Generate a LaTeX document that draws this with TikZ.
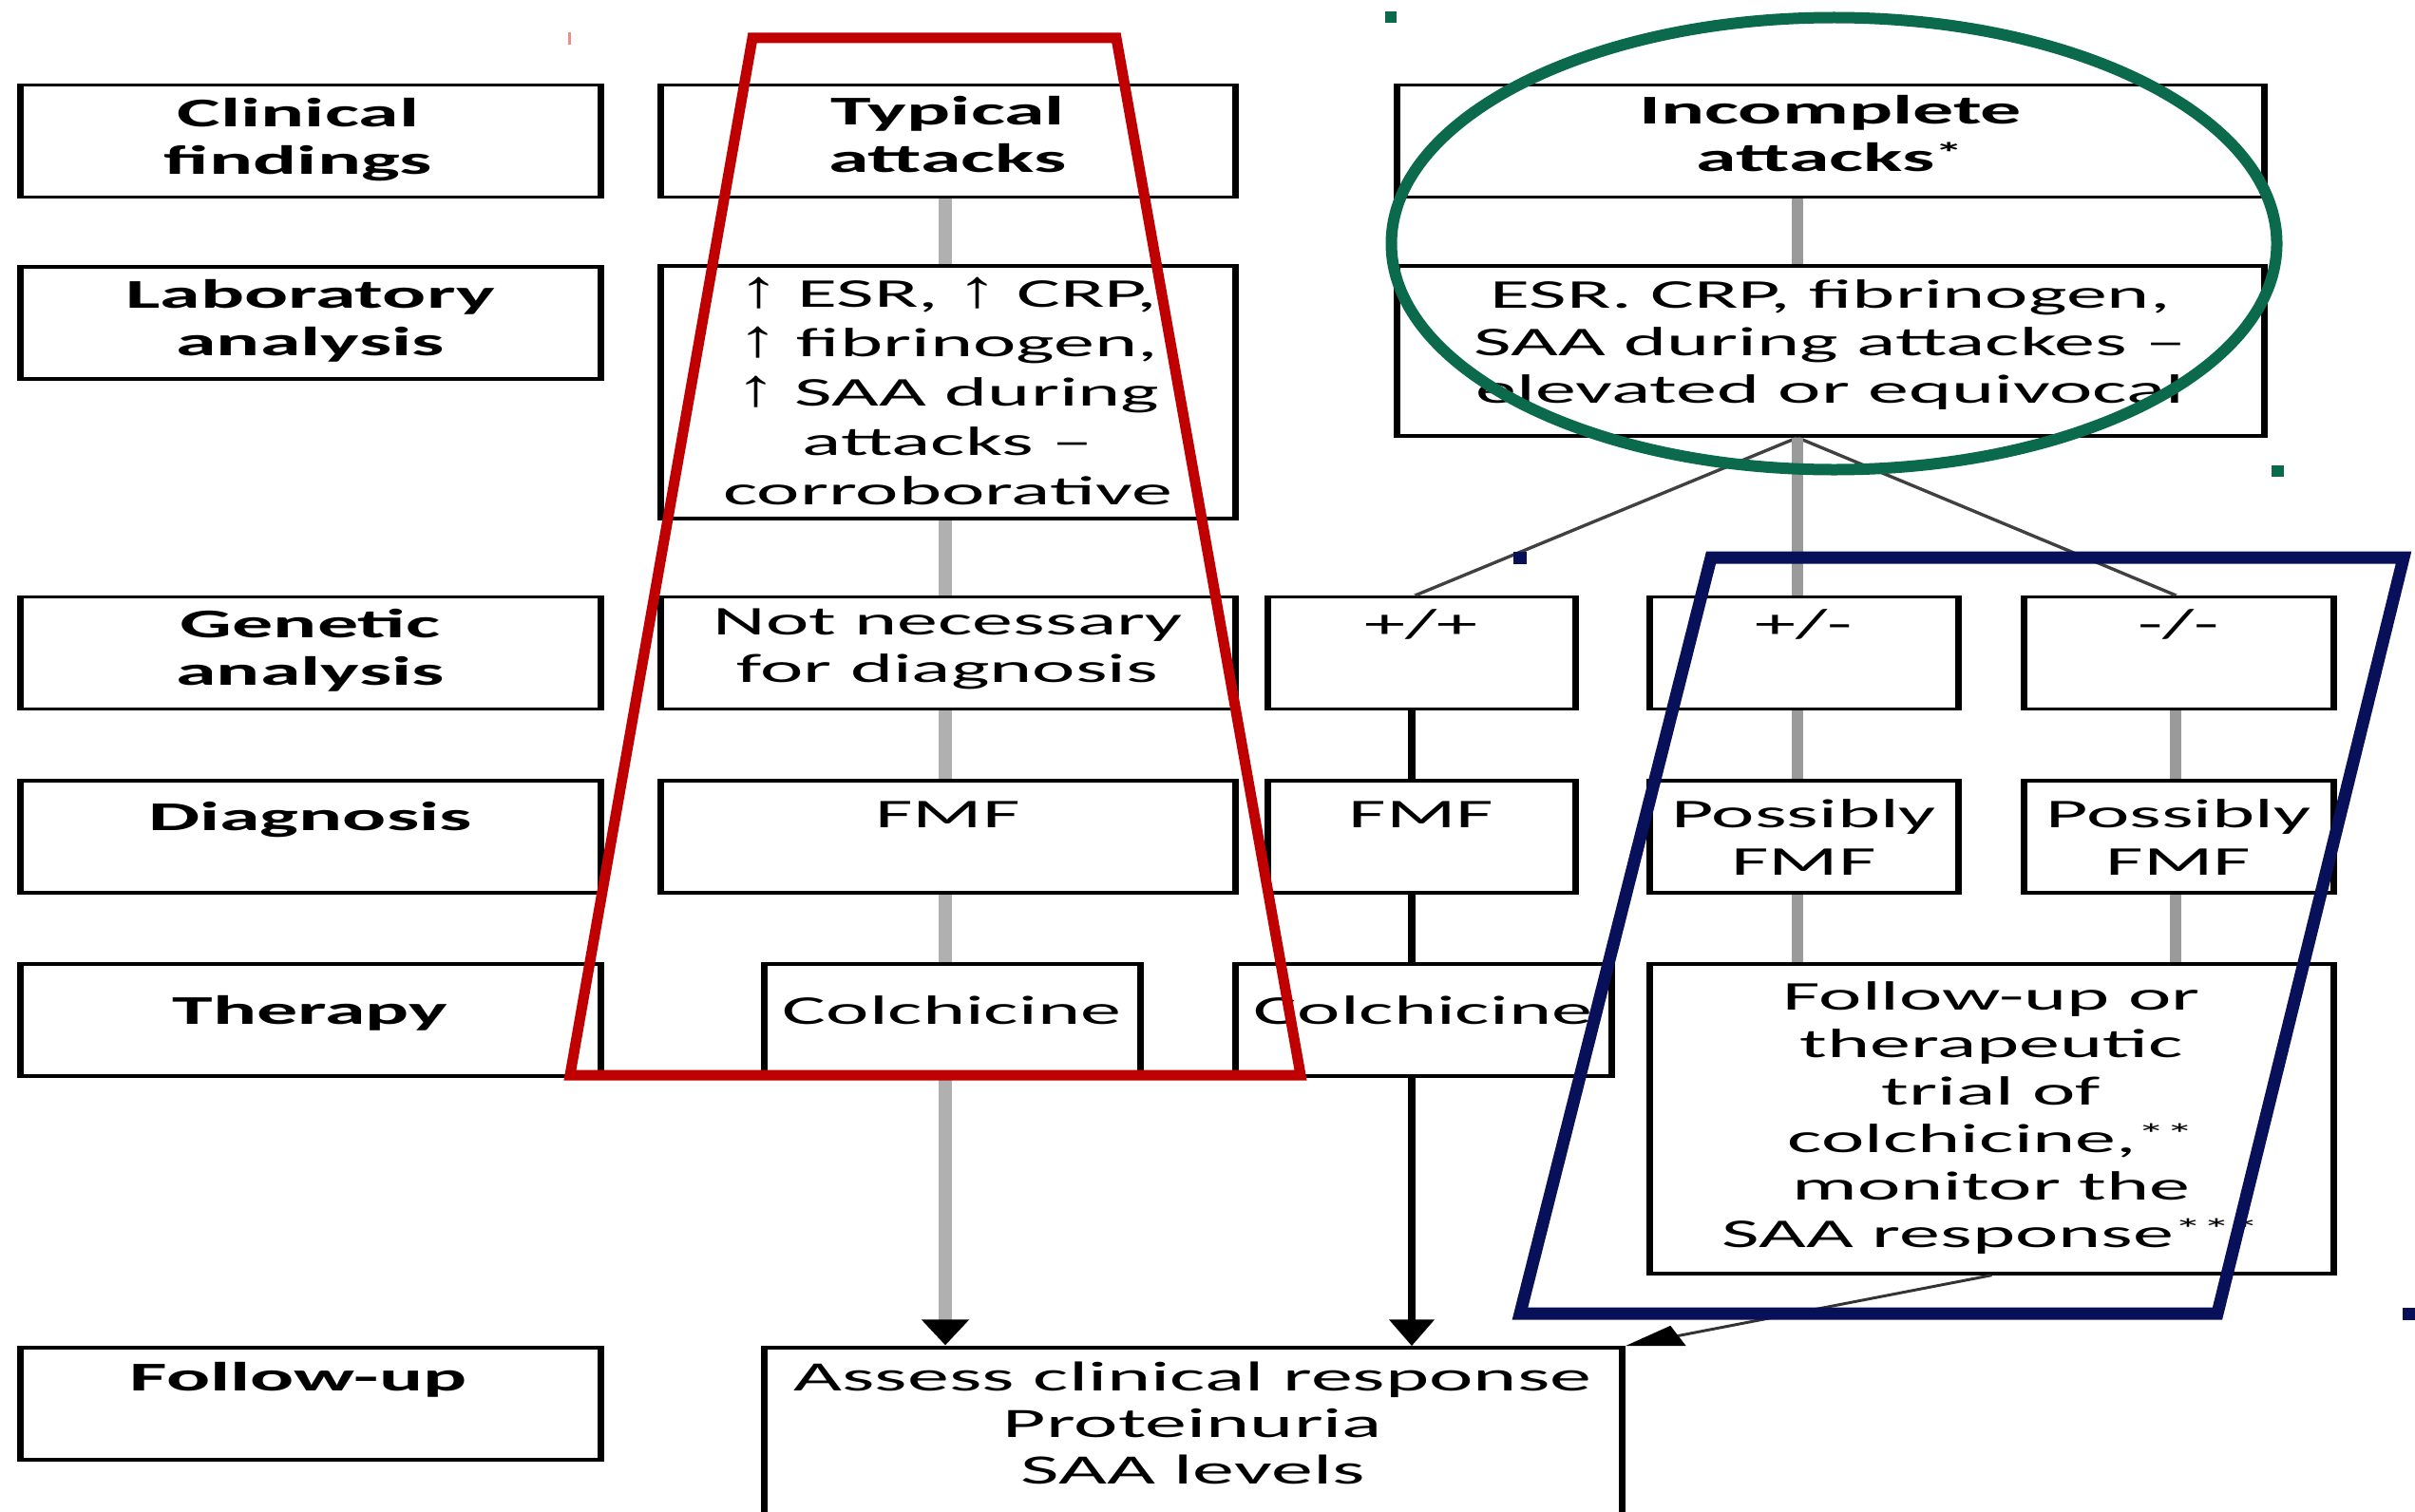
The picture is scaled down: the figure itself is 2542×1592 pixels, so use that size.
\documentclass[tikz,border=0pt]{standalone}
\usepackage{graphicx}
\usepackage{fontspec}
\setmainfont{Carlito}
\newfontfamily\arrowfont{Liberation Sans}
\newcommand{\uparr}{\scalebox{1}[1.3]{\arrowfont ↑}}
\usetikzlibrary{arrows.meta}
\definecolor{redann}{HTML}{C00000}
\definecolor{greenann}{HTML}{0A6A4B}
\definecolor{navyann}{HTML}{08105A}
\definecolor{linetwo}{HTML}{B0B0B0}
\definecolor{linethree}{HTML}{9A9A9A}
\definecolor{diagline}{HTML}{404040}
\definecolor{handlered}{HTML}{E89090}
\begin{document}
\begin{tikzpicture}[x=1pt,y=-1pt,
  box/.style={draw=black, line width=3.5pt, minimum height=118pt, inner sep=0pt},
  txt/.style={anchor=north, inner sep=0pt, align=center, font=\fontsize{43}{50}\selectfont},
  btxt/.style={anchor=north, inner sep=0pt, align=center, font=\fontsize{43}{50}\selectfont\bfseries},
  gline/.style={draw=linetwo, line width=7.3pt},
  gtline/.style={draw=linethree, line width=6pt},
  bline/.style={draw=black, line width=4pt},
  dline/.style={draw=diagline, line width=2.8pt},
  downarrow/.style={-{Triangle[length=28pt,width=23pt,color=black]}},
  slantarrow/.style={-{Triangle[length=30pt,width=22pt,color=black]}},
  annred/.style={draw=redann, line width=11pt},
  anngreen/.style={draw=greenann, line width=12pt},
  annnavy/.style={draw=navyann, line width=13pt}
]
\useasboundingbox (0,0) rectangle (2542,1592);
\clip (0,0) rectangle (2542,1592);
\fill[white] (0,0) rectangle (2542,1592);

\begin{scope}[transform canvas={xscale=2}]
% ---------- left column ----------
\node[box, minimum width=305.5pt] (cf) at (163.25,148.5) {};
\node[box, minimum width=305.5pt] (la) at (163.25,340) {};
\node[box, minimum width=305.5pt] (ga) at (163.25,687.5) {};
\node[box, minimum width=305.5pt] (dg) at (163.25,881) {};
\node[box, minimum width=305.5pt] (th) at (163.25,1074) {};
\node[box, minimum width=305.5pt] (fu) at (163.25,1478) {};
\node[btxt] (cft) at (157,103) {Clinical\\findings};
\node[btxt] (lat) at (la.center |- 0,294) {Laboratory\\analysis};
\node[btxt] (gat) at (la.center |- 0,641) {Genetic\\analysis};
\node[btxt] (dgt) at (dg.center |- 0,844) {Diagnosis};
\node[btxt] (tht) at (th.center |- 0,1048) {Therapy};
\node[btxt] (fut) at (157,1434) {Follow-up};

% ---------- typical column ----------
\node[box, minimum width=302.5pt] (ta) at (498.75,148.5) {};
\node[box, minimum width=302.5pt, minimum height=266pt] (l2) at (498.75,413) {};
\node[box, minimum width=302.5pt] (nn) at (498.75,687.5) {};
\node[box, minimum width=302.5pt] (f2) at (498.75,881) {};
\node[box, minimum width=198pt] (c2) at (501,1074) {};
\node[btxt] (tat) at (ta.center |- 0,101) {Typical\\attacks};
\node[txt, font=\fontsize{43}{52}\selectfont] (l2t) at (l2.center |- 0,292)
  {\uparr\ ESR, \uparr\ CRP,\\\uparr\ fibrinogen,\\\uparr\ SAA during\\attacks --\\corroborative};
\node[txt] (nnt) at (nn.center |- 0,641) {Not necessary\\for diagnosis};
\node[txt] (f2t) at (f2.center |- 0,844) {FMF};
\node[txt] (c2t) at (c2.center |- 0,1048) {Colchicine};

% ---------- incomplete column ----------
\node[box, minimum width=456.5pt] (ia) at (963.25,148.5) {};
\node[box, minimum width=456.5pt, minimum height=179pt] (l3) at (963.25,369.5) {};
\node[box, minimum width=162pt] (g1) at (748,687.5) {};
\node[box, minimum width=162.5pt] (g2) at (949.25,687.5) {};
\node[box, minimum width=163pt] (g3) at (1146.5,687.5) {};
\node[box, minimum width=162pt] (f3) at (748,881) {};
\node[box, minimum width=162.5pt] (p1) at (949.25,881) {};
\node[box, minimum width=163pt] (p2) at (1146.5,881) {};
\node[box, minimum width=198pt] (c3) at (749,1074) {};
\node[box, minimum width=360pt, minimum height=326pt] (fo) at (1048,1178) {};
\node[box, minimum width=451.5pt, minimum height=201pt] (as) at (627.75,1519.5) {};
\node[btxt] (iat) at (ia.center |- 0,100) {Incomplete\\attacks\textsuperscript{*}};
\node[txt] (l3t) at (l3.center |- 0,294) {ESR. CRP, fibrinogen,\\SAA during attackes --\\elevated or equivocal};
\node[txt] (g1t) at (g1.center |- 0,641) {+/+};
\node[txt] (g2t) at (g2.center |- 0,641) {+/-};
\node[txt] (g3t) at (g3.center |- 0,641) {-/-};
\node[txt] (f3t) at (f3.center |- 0,844) {FMF};
\node[txt] (p1t) at (p1.center |- 0,841) {Possibly\\FMF};
\node[txt] (p2t) at (p2.center |- 0,841) {Possibly\\FMF};
\node[txt] (c3t) at (c3.center |- 0,1048) {Colchicine};
\node[txt] (fot) at (fo.center |- 0,1033) {Follow-up or\\therapeutic\\trial of\\colchicine,\textsuperscript{**}\\monitor the\\SAA response\textsuperscript{***}};
\node[txt, font=\fontsize{44}{49}\selectfont] (ast) at (as.center |- 0,1434) {Assess clinical response\\Proteinuria\\SAA levels};

% ---------- connectors ----------
\coordinate (xa) at (497.5,0);
\draw[gline] (ta.south -| xa) -- (l2.north -| xa);
\draw[gline] (l2.south -| xa) -- (nn.north -| xa);
\draw[gline] (nn.south -| xa) -- (f2.north -| xa);
\draw[gline] (f2.south -| xa) -- (c2.north -| xa);
\draw[gline, downarrow] (c2.south -| xa) -- (as.north -| xa);

\coordinate (xb) at (946,0);
\coordinate (xc) at (743,0);
\coordinate (xd) at (1145,0);
\draw[gtline] (ia.south -| xb) -- (l3.north -| xb);
\coordinate (br) at (l3.south -| xb);
\draw[dline] (br) -- (g1.north -| 745,0);
\draw[dline] (br) -- (g3.north -| xd);
\draw[gtline] (br) -- (g2.north -| xb);
\draw[bline] (g1.south -| xc) -- (f3.north -| xc);
\draw[bline] (f3.south -| xc) -- (c3.north -| xc);
\draw[bline, downarrow] (c3.south -| xc) -- (as.north -| xc);
\draw[gtline] (g2.south -| xb) -- (p1.north -| xb);
\draw[gtline] (p1.south -| xb) -- (fo.north -| xb);
\draw[gtline] (g3.south -| xd) -- (p2.north -| xd);
\draw[gtline] (p2.south -| xd) -- (fo.north -| xd);
\draw[dline, draw=black!80, slantarrow] (fo.south) -- (as.north east);
\end{scope}

% ---------- annotation overlays ----------
\draw[annred] (792,40) -- (1175,40) -- (1369,1132) -- (600,1132) -- cycle;
\draw[anngreen] (1930.5,256.5) ellipse [x radius=466pt, y radius=238pt];
\draw[annnavy] (1801,587) -- (2530,587) -- (2334,1383) -- (1600,1383) -- cycle;
\fill[handlered] (598,34) rectangle (600.5,47);
\fill[greenann] (1458,12) rectangle (1470,24);
\fill[greenann] (2391,490) rectangle (2404,502);
\fill[navyann] (1593,581) rectangle (1607,594);
\fill[navyann] (2529,1377) rectangle (2542,1390);
\end{tikzpicture}
\end{document}
